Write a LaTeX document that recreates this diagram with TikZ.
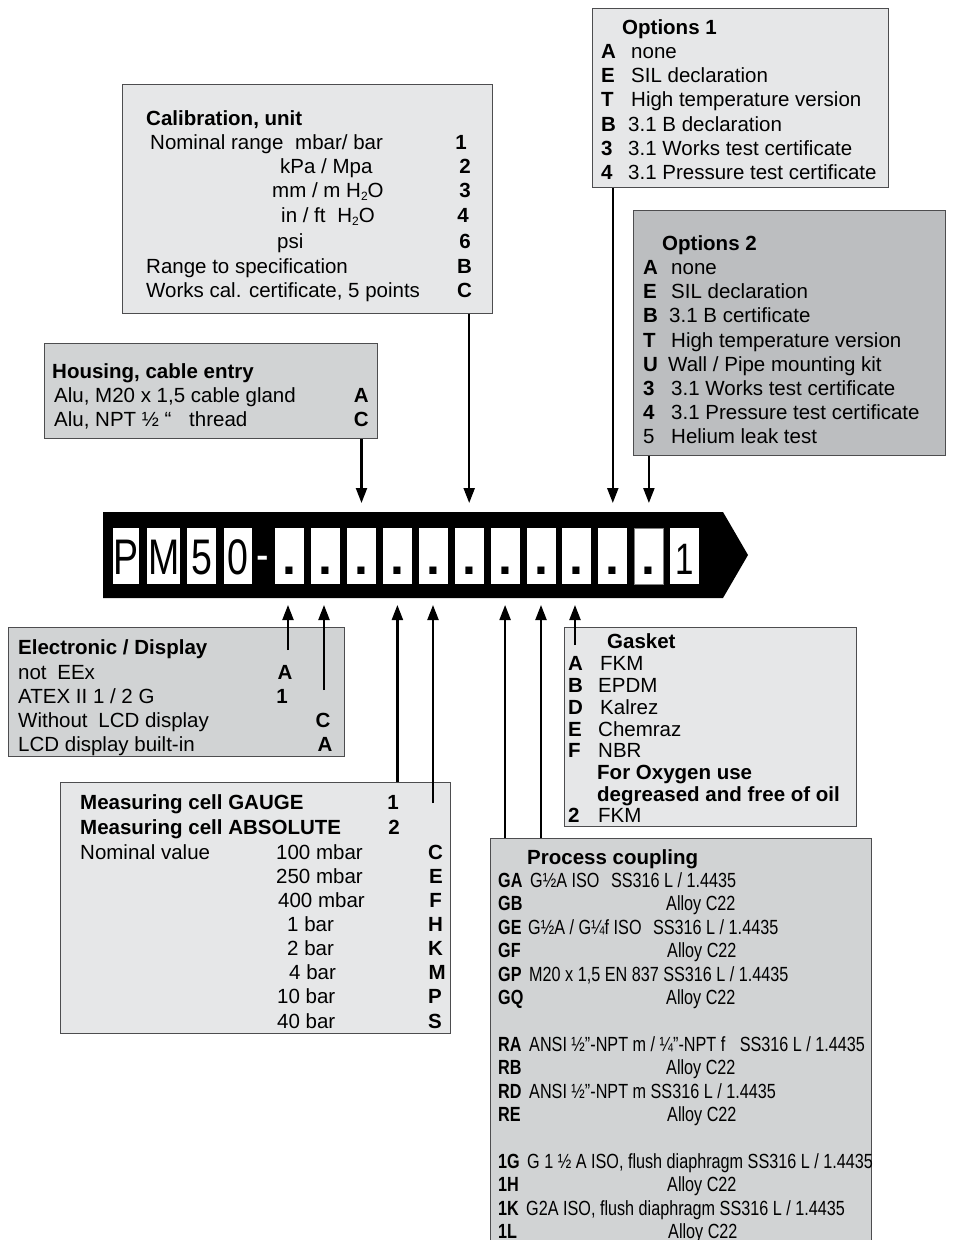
\documentclass[tikz,border=0pt]{standalone}
\usepackage{fontspec}
\setmainfont{Liberation Sans}
\newfontfamily\condfont{Liberation Sans}[FakeStretch=0.79]
\newfontfamily\cellfont{Liberation Sans}[FakeStretch=0.75]
\usetikzlibrary{arrows.meta}
\definecolor{lg}{HTML}{E6E7E8}
\definecolor{mg}{HTML}{D1D3D4}
\definecolor{dg}{HTML}{BCBEC0}
\definecolor{bl}{HTML}{4D4D4F}
\newcommand{\fsz}{\fontsize{20.5}{24}\selectfont}
\newcommand{\subtwo}{\raisebox{-3pt}{\fontsize{12}{12}\selectfont 2}}
\begin{document}
\begin{tikzpicture}[x=1pt,y=-1pt,
  t/.style={anchor=base west,inner sep=0pt,font=\fsz},
  tb/.style={anchor=base west,inner sep=0pt,font=\fsz\bfseries},
  te/.style={anchor=base east,inner sep=0pt,font=\fsz\bfseries},
  tm/.style={anchor=base,inner sep=0pt,font=\fsz\bfseries},
  pt/.style={anchor=base west,inner sep=0pt,font=\fsz\condfont},
  pb/.style={anchor=base west,inner sep=0pt,font=\fsz\condfont\bfseries},
  box/.style={draw=bl,line width=1pt,anchor=north west,inner sep=0pt},
  cellbox/.style={fill=white,anchor=north west,inner sep=0pt,minimum height=56pt,text height=36pt,text depth=0pt,font=\fontsize{50}{50}\selectfont\cellfont},
  dotbox/.style={cellbox,minimum width=29pt,font=\fontsize{50}{50}\selectfont\bfseries},
  arr/.style={line width=2.2pt,-{Triangle[width=11pt,length=15pt]}}]
\useasboundingbox (0,0) rectangle (954,1240);
\fill[white] (0,0) rectangle (954,1240);

% ---------- boxes ----------
\node[box,fill=lg,minimum width=296pt,minimum height=179pt] (o1) at (592,8) {};
\node[box,fill=dg,minimum width=312pt,minimum height=245pt] (o2) at (633,210) {};
\node[box,fill=lg,minimum width=370pt,minimum height=229pt] (cal) at (122,84) {};
\node[box,fill=mg,minimum width=333pt,minimum height=95pt] (hs) at (44,343) {};
\node[box,fill=mg,minimum width=336pt,minimum height=129pt] (el) at (8,627) {};
\node[box,fill=lg,minimum width=390pt,minimum height=251pt] (mc) at (60,782) {};
\node[box,fill=lg,minimum width=292pt,minimum height=199pt] (gk) at (564,627) {};
\node[box,fill=mg,minimum width=381pt,minimum height=412pt] (pc) at (490,838) {};

% ---------- Options 1 ----------
\node[tb] (o1t) at (622,34) {Options 1};
\node[tb] (o1ak) at (601,58) {A}; \node[t] (o1av) at (631,58) {none};
\node[tb] (o1ek) at (601,82) {E}; \node[t] (o1ev) at (631,82) {SIL declaration};
\node[tb] (o1tk) at (601,106) {T}; \node[t] (o1tv) at (631,106) {High temperature version};
\node[tb] (o1bk) at (601,131) {B}; \node[t] (o1bv) at (628,131) {3.1 B declaration};
\node[tb] (o13k) at (601,155) {3}; \node[t] (o13v) at (628,155) {3.1 Works test certificate};
\node[tb] (o14k) at (601,179) {4}; \node[t] (o14v) at (628,179) {3.1 Pressure test certificate};

% ---------- Options 2 ----------
\node[tb] (o2t) at (662,250) {Options 2};
\node[tb] (o2ak) at (643,274) {A}; \node[t] (o2av) at (671,274) {none};
\node[tb] (o2ek) at (643,298) {E}; \node[t] (o2ev) at (671,298) {SIL declaration};
\node[tb] (o2bk) at (643,322) {B}; \node[t] (o2bv) at (669,322) {3.1 B certificate};
\node[tb] (o2tk) at (643,347) {T}; \node[t] (o2tv) at (671,347) {High temperature version};
\node[tb] (o2uk) at (643,371) {U}; \node[t] (o2uv) at (668,371) {Wall / Pipe mounting kit};
\node[tb] (o23k) at (643,395) {3}; \node[t] (o23v) at (671,395) {3.1 Works test certificate};
\node[tb] (o24k) at (643,419) {4}; \node[t] (o24v) at (671,419) {3.1 Pressure test certificate};
\node[t] (o25k) at (643,443) {5}; \node[t] (o25v) at (671,443) {Helium leak test};

% ---------- Calibration ----------
\node[tb] (calt) at (146,125) {Calibration, unit};
\node[t] (ca1) at (150,149) {Nominal range\hspace{6pt} mbar/ bar}; \node[te] (ca1k) at (467,149) {1};
\node[t] (ca2) at (280,173) {kPa / Mpa}; \node[te] (ca2k) at (471,173) {2};
\node[t] (ca3) at (272,197) {mm / m H\subtwo O}; \node[te] (ca3k) at (471,197) {3};
\node[t] (ca4) at (281,222) {in / ft\hspace{6pt} H\subtwo O}; \node[te] (ca4k) at (469,222) {4};
\node[t] (ca6) at (277,248) {psi}; \node[te] (ca6k) at (471,248) {6};
\node[t] (cab) at (146,273) {Range to specification}; \node[te] (cabk) at (472,273) {B};
\node[t] (cac) at (146,297) {Works cal. certificate, 5 points}; \node[te] (cack) at (472,297) {C};

% ---------- Housing ----------
\node[tb] (hst) at (52,378) {Housing, cable entry};
\node[t] (hsa) at (54,402) {Alu, M20 x 1,5 cable gland}; \node[te] (hsak) at (369,402) {A};
\node[t] (hsc) at (54,426) {Alu, NPT ½ “\hspace{12pt} thread}; \node[te] (hsck) at (369,426) {C};

% ---------- Electronic ----------
\node[tb] (elt) at (18,654) {Electronic / Display};
\node[t] (el1) at (18,679) {not\hspace{5pt} EEx}; \node[tm] (el1k) at (285,679) {A};
\node[t] (el2) at (18,703) {ATEX II 1 / 2 G}; \node[tm] (el2k) at (282,703) {1};
\node[t] (el3) at (18,727) {Without\hspace{5pt} LCD display}; \node[tm] (el3k) at (323,727) {C};
\node[t] (el4) at (18,751) {LCD display built-in}; \node[tm] (el4k) at (325,751) {A};

% ---------- Measuring cell ----------
\node[tb] (mct1) at (80,809) {Measuring cell GAUGE}; \node[tm] (mct1k) at (393,809) {1};
\node[tb] (mct2) at (80,834) {Measuring cell ABSOLUTE}; \node[tm] (mct2k) at (394,834) {2};
\node[t] (mcn) at (80,859) {Nominal value};
\node[t] (mv1) at (276,859) {100 mbar}; \node[te] (mv1k) at (443,859) {C};
\node[t] (mv2) at (276,883) {250 mbar}; \node[te] (mv2k) at (443,883) {E};
\node[t] (mv3) at (278,907) {400 mbar}; \node[te] (mv3k) at (442,907) {F};
\node[t] (mv4) at (287,931) {1 bar}; \node[te] (mv4k) at (443,931) {H};
\node[t] (mv5) at (287,955) {2 bar}; \node[te] (mv5k) at (443,955) {K};
\node[t] (mv6) at (289,979) {4 bar}; \node[te] (mv6k) at (446,979) {M};
\node[t] (mv7) at (277,1003) {10 bar}; \node[te] (mv7k) at (442,1003) {P};
\node[t] (mv8) at (277,1028) {40 bar}; \node[te] (mv8k) at (442,1028) {S};

% ---------- Gasket ----------
\node[tb] (gkt) at (607,648) {Gasket};
\node[tb] (gkak) at (568,670) {A}; \node[t] (gkav) at (600,670) {FKM};
\node[tb] (gkbk) at (568,692) {B}; \node[t] (gkbv) at (598,692) {EPDM};
\node[tb] (gkdk) at (568,714) {D}; \node[t] (gkdv) at (600,714) {Kalrez};
\node[tb] (gkek) at (568,736) {E}; \node[t] (gkev) at (598,736) {Chemraz};
\node[tb] (gkfk) at (568,757) {F}; \node[t] (gkfv) at (598,757) {NBR};
\node[tb] (gko1) at (597,779) {For Oxygen use};
\node[tb] (gko2) at (597,801) {degreased and free of oil};
\node[tb] (gk2k) at (568,822) {2}; \node[t] (gk2v) at (598,822) {FKM};

% ---------- Process coupling ----------
\node[tb] (pct) at (527,864) {Process coupling};
\node[pb] (pga) at (498,887) {GA}; \node[pt] (pgav) at (530,887) {G½A ISO\hspace{7pt} SS316 L / 1.4435};
\node[pb] (pgb) at (498,910) {GB}; \node[pt] (pgbv) at (666,910) {Alloy C22};
\node[pb] (pge) at (498,934) {GE}; \node[pt] (pgev) at (528,934) {G½A / G¼f ISO\hspace{7pt} SS316 L / 1.4435};
\node[pb] (pgf) at (498,957) {GF}; \node[pt] (pgfv) at (667,957) {Alloy C22};
\node[pb] (pgp) at (498,981) {GP}; \node[pt] (pgpv) at (529,981) {M20 x 1,5 EN 837 SS316 L / 1.4435};
\node[pb] (pgq) at (498,1004) {GQ}; \node[pt] (pgqv) at (666,1004) {Alloy C22};
\node[pb] (pra) at (498,1051) {RA}; \node[pt] (prav) at (529,1051) {ANSI ½”-NPT m / ¼”-NPT f\hspace{10pt} SS316 L / 1.4435};
\node[pb] (prb) at (498,1074) {RB}; \node[pt] (prbv) at (666,1074) {Alloy C22};
\node[pb] (prd) at (498,1098) {RD}; \node[pt] (prdv) at (529,1098) {ANSI ½”-NPT m SS316 L / 1.4435};
\node[pb] (pre) at (498,1121) {RE}; \node[pt] (prev) at (667,1121) {Alloy C22};
\node[pb] (p1g) at (498,1168) {1G}; \node[pt] (p1gv) at (527,1168) {G 1 ½ A ISO, flush diaphragm SS316 L / 1.4435};
\node[pb] (p1h) at (498,1191) {1H}; \node[pt] (p1hv) at (667,1191) {Alloy C22};
\node[pb] (p1k) at (498,1215) {1K}; \node[pt] (p1kv) at (526,1215) {G2A ISO, flush diaphragm SS316 L / 1.4435};
\node[pb] (p1l) at (498,1238) {1L}; \node[pt] (p1lv) at (668,1238) {Alloy C22};

% ---------- code bar ----------
\fill[black] (103,512) -- (723,512) -- (748,555) -- (723,598) -- (103,598) -- cycle;
\node[cellbox,minimum width=26pt] (cp) at (113,528) {P};
\node[cellbox,minimum width=33pt] (cm) at (147,528) {M};
\node[cellbox,minimum width=29pt] (c5) at (187,528) {5};
\node[cellbox,minimum width=28pt] (c0) at (224,528) {0};
\node[anchor=base,inner sep=0pt,text=white,font=\fontsize{50}{50}\selectfont\cellfont] (dash) at (263,571) {-};
\node[dotbox] (c1) at (275,528) {.};
\node[dotbox] (c2) at (310.9,528) {.};
\node[dotbox] (c3) at (346.8,528) {.};
\node[dotbox] (c4) at (382.7,528) {.};
\node[dotbox] (c5d) at (418.6,528) {.};
\node[dotbox] (c6) at (454.5,528) {.};
\node[dotbox] (c7) at (490.4,528) {.};
\node[dotbox] (c8) at (526.3,528) {.};
\node[dotbox] (c9) at (562.2,528) {.};
\node[dotbox] (c10) at (598.1,528) {.};
\node[dotbox,draw=gray,line width=0.8pt] (c11) at (634,528) {.};
\node[cellbox,minimum width=29pt,font=\fontsize{44}{44}\selectfont\cellfont] (cone) at (670,528) {1};

\coordinate (bt) at (0,503);
\coordinate (bb) at (0,605);

% ---------- arrows from above ----------
\draw[arr] (hs.south -| c3) -- (bt -| c3);
\draw[arr] (cal.south -| c6) -- (bt -| c6);
\draw[arr] (o1.south -| c10) -- (bt -| c10);
\draw[arr] (o2.south -| c11) -- (bt -| c11);

% ---------- arrows from below ----------
\coordinate (e1) at (288,650);
\coordinate (e2) at (324,690);
\coordinate (m2) at (433,803);
\coordinate (g1) at (575,645);
\draw[arr] (e1) -- (bb -| e1);
\draw[arr] (e2) -- (bb -| e2);
\draw[arr] (mc.north -| c4) -- (bb -| c4);
\draw[arr] (m2) -- (bb -| m2);
\draw[arr] (pc.north -| c7) -- (bb -| c7);
\draw[arr] (pc.north -| c8) -- (bb -| c8);
\draw[arr] (g1) -- (bb -| g1);
\end{tikzpicture}
\end{document}
